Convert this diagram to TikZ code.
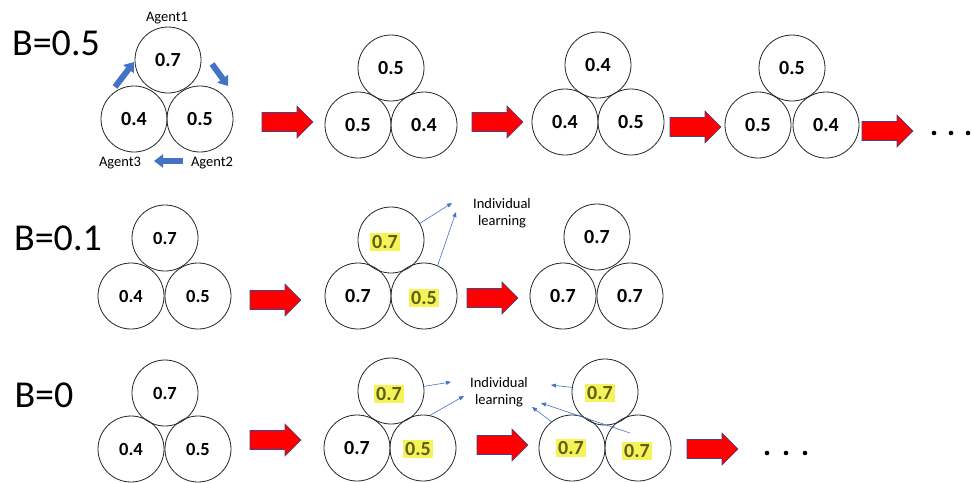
\documentclass[tikz,border=0pt]{standalone}
\usepackage{fontspec}
\setmainfont{Carlito}
\usetikzlibrary{arrows.meta}
\definecolor{arrred}{RGB}{255,0,0}
\definecolor{arrborder}{RGB}{60,70,140}
\definecolor{agblue}{RGB}{68,114,196}
\definecolor{hlyellow}{RGB}{245,242,90}
\definecolor{hltext}{RGB}{95,95,20}
\tikzset{
  agent/.style={circle, draw=black!85, line width=0.8pt, minimum size=66pt, inner sep=0pt, font=\fontsize{20}{22}\selectfont\bfseries},
  agentsm/.style={agent, font=\fontsize{18.5}{20}\selectfont\bfseries},
  hlbox/.style={fill=hlyellow, text=hltext, inner sep=2pt, font=\fontsize{20}{22}\selectfont\bfseries},
  bigB/.style={font=\fontsize{38}{42}\selectfont},
  smalltxt/.style={font=\fontsize{14.5}{17}\selectfont, align=center},
  blockarrow/.style={draw=agblue, line width=6pt, -{Triangle[length=9pt, width=13pt]}},
  thinarrow/.style={draw=agblue, line width=0.6pt, -{Triangle[length=5pt, width=4pt]}},
  redarr/.style={draw=arrborder, line width=0.6pt, fill=arrred},
  dotmark/.style={fill=black, draw=none}
}
\newcommand\redarrow[2]{%
  \path[redarr] (#1,#2-9.5) -- (#1+35,#2-9.5) -- (#1+35,#2-16) -- (#1+51,#2)
    -- (#1+35,#2+16) -- (#1+35,#2+9.5) -- (#1,#2+9.5) -- cycle;}
\newcommand\threedots[3]{%
  \fill[dotmark] (#1,#3) circle (2.3);
  \fill[dotmark] (#2,#3) circle (2.3);
  \fill[dotmark] (2*#2-#1,#3) circle (2.3);}
\begin{document}
\begin{tikzpicture}[x=1pt, y=-1pt]
\useasboundingbox (0,0) rectangle (971,482);
\fill[white] (0,0) rectangle (971,482);

% ---------- Row 1: B=0.5 ----------
\node[bigB] (b1) at (56,43) {B=0.5};
\node[agent] (r1a-t) at (168,60) {0.7};
\node[agent] (r1a-l) at (134,119) {0.4};
\node[agent] (r1a-r) at (200,119) {0.5};
\node[smalltxt] (ag1) at (167,18) {Agent1};
\node[smalltxt] (ag3) at (120,163) {Agent3};
\node[smalltxt] (ag2) at (212,163) {Agent2};
\coordinate (bl1s) at (115,87); \coordinate (bl1e) at (134,62);
\coordinate (bl2s) at (212,64); \coordinate (bl2e) at (228,86);
\coordinate (bl3s) at (183,161); \coordinate (bl3e) at (154,161);
\draw[blockarrow] (bl1s) -- (bl1e);
\draw[blockarrow] (bl2s) -- (bl2e);
\draw[blockarrow] (bl3s) -- (bl3e);
\redarrow{262}{122}

\node[agent] (r1b-t) at (391,68) {0.5};
\node[agent] (r1b-l) at (358,125) {0.5};
\node[agent] (r1b-r) at (424,125) {0.4};
\redarrow{472}{122}

\node[agent] (r1c-t) at (598,65) {0.4};
\node[agent] (r1c-l) at (565,122) {0.4};
\node[agent] (r1c-r) at (631,122) {0.5};
\redarrow{670}{127}

\node[agent] (r1d-t) at (792,68) {0.5};
\node[agent] (r1d-l) at (758,125) {0.5};
\node[agent] (r1d-r) at (826,125) {0.4};
\redarrow{862}{131}
\threedots{934}{951}{133}

% ---------- Row 2: B=0.1 ----------
\node[bigB] (b2) at (58,238) {B=0.1};
\node[agentsm] (r2a-t) at (165,238) {0.7};
\node[agentsm] (r2a-l) at (131,296) {0.4};
\node[agentsm] (r2a-r) at (198,296) {0.5};
\redarrow{250}{300}

\node[agent] (r2b-t) at (391,240) {};
\node[agent] (r2b-l) at (358,296) {0.7};
\node[agent] (r2b-r) at (424,296) {};
\node[hlbox] (h21) at (385,242) {0.7};
\node[hlbox] (h22) at (424,298) {0.5};
\node[smalltxt] (il2) at (502,213) {Individual\\learning};
\coordinate (t21) at (452,203);
\coordinate (t22) at (456,212);
\draw[thinarrow] (r2b-t.30) -- (t21);
\draw[thinarrow] (r2b-r.66) -- (t22);
\redarrow{467}{298}

\node[agent] (r2c-t) at (597,237) {0.7};
\node[agent] (r2c-l) at (563,296) {0.7};
\node[agent] (r2c-r) at (630,296) {0.7};

% ---------- Row 3: B=0 ----------
\node[bigB] (b3) at (44,395) {B=0};
\node[agentsm] (r3a-t) at (165,393) {0.7};
\node[agentsm] (r3a-l) at (131,449) {0.4};
\node[agentsm] (r3a-r) at (198,449) {0.5};
\redarrow{250}{440}

\node[agent] (r3b-t) at (391,391) {};
\node[agent] (r3b-l) at (357,448) {0.7};
\node[agent] (r3b-r) at (423,448) {};
\node[hlbox] (h31) at (389,394) {0.7};
\node[hlbox] (h32) at (418,449) {0.5};
\node[smalltxt] (il3) at (499,392) {Individual\\learning};
\coordinate (t31) at (451,382);
\coordinate (t32) at (464,396);
\draw[thinarrow] (r3b-t.8) -- (t31);
\draw[thinarrow] (r3b-r.78) -- (t32);
\redarrow{477}{445}

\node[agent] (r3c-t) at (605,392) {};
\node[agent] (r3c-l) at (572,448) {};
\node[agent] (r3c-r) at (638,448) {};
\node[hlbox] (h33) at (600,393) {0.7};
\node[hlbox] (h34) at (571,448) {0.7};
\node[hlbox] (h35) at (637,451) {0.7};
\coordinate (t33) at (551,385);
\coordinate (t34) at (532,407);
\coordinate (t35) at (541,403);
\coordinate (s35) at (630,433);
\draw[thinarrow] (r3c-t.172) -- (t33);
\draw[thinarrow] (r3c-l.128) -- (t34);
\draw[thinarrow] (s35) -- (t35);
\redarrow{687}{449}
\threedots{767}{786}{453}
\end{tikzpicture}
\end{document}
